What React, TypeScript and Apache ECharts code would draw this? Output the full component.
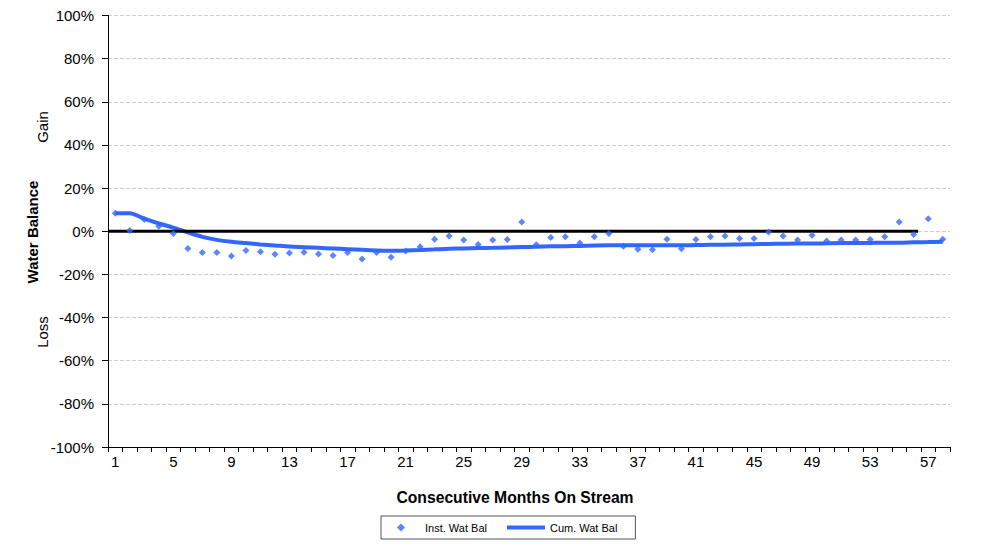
import React, { useEffect, useRef } from "react";
import * as echarts from "echarts";

const months: string[] = Array.from({ length: 58 }, (_, i) => String(i + 1));

const instWatBal: number[] = [
  8.4, 0.3, 5.5, 2.3, -1.0, -8.0, -9.8, -9.8, -11.5, -8.9,
  -9.5, -10.7, -10.1, -9.7, -10.6, -11.2, -9.8, -12.9, -9.8, -12.0,
  -9.2, -7.2, -3.7, -2.2, -4.1, -6.1, -4.1, -3.8, 4.3, -6.3,
  -2.9, -2.5, -5.5, -2.6, -1.1, -6.9, -8.3, -8.6, -3.7, -8.1,
  -3.8, -2.6, -2.2, -3.4, -3.4, -0.3, -2.2, -4.0, -1.8, -4.5,
  -4.0, -4.0, -3.8, -2.6, 4.3, -1.5, 5.8, -3.7,
];

const cumWatBal: number[] = [
  8.4, 8.4, 5.8, 3.6, 1.7, -0.5, -2.6, -4.0, -4.9, -5.5,
  -6.1, -6.6, -7.1, -7.4, -7.7, -8.0, -8.3, -8.6, -8.9, -9.0,
  -8.9, -8.7, -8.4, -8.1, -8.0, -7.8, -7.7, -7.5, -7.3, -7.2,
  -7.0, -6.9, -6.8, -6.6, -6.5, -6.5, -6.5, -6.5, -6.5, -6.5,
  -6.4, -6.3, -6.2, -6.1, -6.0, -5.9, -5.8, -5.7, -5.7, -5.6,
  -5.5, -5.5, -5.4, -5.3, -5.3, -5.1, -5.0, -4.9,
];

const zeroLine: number[][] = [
  [0.5, 0],
  [56.3, 0],
];

const BLUE = "#3366ff";
const FONT = "Liberation Sans, Arial, sans-serif";

export default function App() {
  const ref = useRef<HTMLDivElement>(null);

  useEffect(() => {
    if (!ref.current) return;
    const chart = echarts.init(ref.current, null, { renderer: "svg" });
    chart.setOption({
      animation: false,
      backgroundColor: "#ffffff",
      textStyle: { fontFamily: FONT },
      grid: { left: 100, right: 34, top: 7, bottom: 101 },
      xAxis: [
        {
          type: "category",
          data: months,
          boundaryGap: true,
          axisLine: { onZero: false, lineStyle: { color: "#000", width: 1 } },
          axisTick: { show: true, interval: 0, length: 5, lineStyle: { color: "#000" } },
          axisLabel: { interval: 3, margin: 7, fontSize: 15, color: "#000", fontFamily: FONT },
          splitLine: { show: false },
        },
        {
          type: "value",
          min: 0.5,
          max: 58.5,
          show: false,
        },
      ],
      yAxis: {
        type: "value",
        min: -100,
        max: 100,
        interval: 20,
        axisLine: { show: true, lineStyle: { color: "#000", width: 1 } },
        axisTick: { show: true, length: 6, lineStyle: { color: "#000" } },
        axisLabel: { formatter: "{value}%", fontSize: 15, color: "#000", margin: 14, fontFamily: FONT },
        splitLine: { show: true, lineStyle: { color: "#d0d0d0", type: "dashed", width: 1 } },
      },
      legend: {
        left: 373,
        top: 508,
        padding: [6, 18, 6, 16],
        borderColor: "#555",
        borderWidth: 1,
        itemWidth: 38,
        itemHeight: 8,
        itemGap: 20,
        itemTextGap: 4,
        symbolKeepAspect: true,
        textStyle: { fontSize: 11, color: "#000", fontFamily: FONT },
        data: [
          { name: "Inst. Wat Bal", icon: "path://M0,-4L4,0L0,4L-4,0Z" },
          { name: "Cum. Wat Bal", icon: "path://M0,0H38V4H0Z" },
        ],
      },
      graphic: [
        {
          type: "text",
          x: 507,
          y: 489,
          style: {
            text: "Consecutive Months On Stream",
            fontFamily: FONT,
            fontSize: 15.7,
            fontWeight: "bold",
            fill: "#000",
            align: "center",
            verticalAlign: "middle",
          },
        },
        {
          type: "text",
          x: 24,
          y: 224,
          rotation: Math.PI / 2,
          style: {
            text: "Water Balance",
            fontFamily: FONT,
            fontSize: 15,
            fontWeight: "bold",
            fill: "#000",
            align: "center",
            verticalAlign: "middle",
          },
        },
        {
          type: "text",
          x: 34,
          y: 119,
          rotation: Math.PI / 2,
          style: {
            text: "Gain",
            fontFamily: FONT,
            fontSize: 15,
            fill: "#000",
            align: "center",
            verticalAlign: "middle",
          },
        },
        {
          type: "text",
          x: 34,
          y: 324,
          rotation: Math.PI / 2,
          style: {
            text: "Loss",
            fontFamily: FONT,
            fontSize: 15,
            fill: "#000",
            align: "center",
            verticalAlign: "middle",
          },
        },
      ],
      series: [
        {
          name: "Cum. Wat Bal",
          type: "line",
          data: cumWatBal,
          smooth: 0.3,
          symbol: "none",
          lineStyle: { color: BLUE, width: 4 },
          itemStyle: { color: BLUE },
          z: 2,
        },
        {
          name: "zero",
          type: "line",
          xAxisIndex: 1,
          data: zeroLine,
          symbol: "none",
          lineStyle: { color: "#000", width: 3 },
          z: 3,
          silent: true,
        },
        {
          name: "Inst. Wat Bal",
          type: "scatter",
          data: instWatBal,
          symbol: "diamond",
          symbolSize: 7,
          itemStyle: { color: BLUE },
          z: 4,
        },
      ],
    });
    return () => chart.dispose();
  }, []);

  return <div ref={ref} style={{ width: 976, height: 540 }} />;
}
